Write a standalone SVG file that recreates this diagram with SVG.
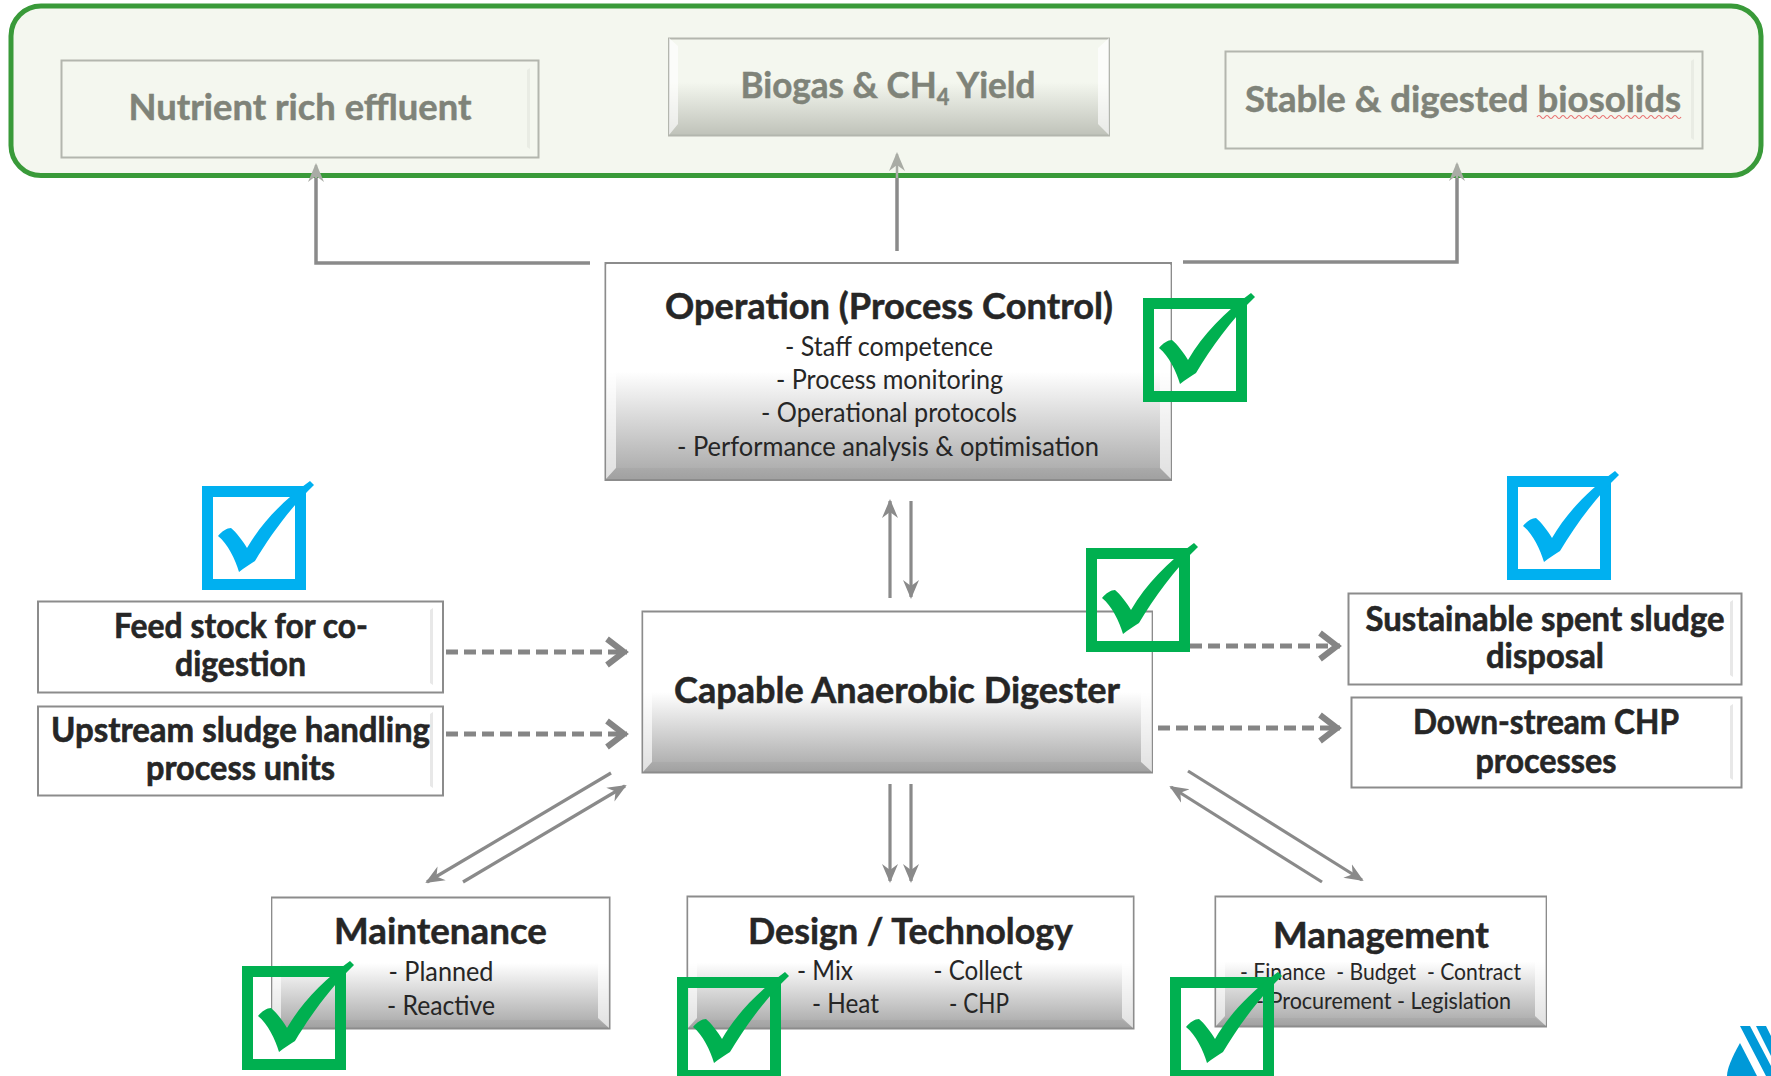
<svg xmlns="http://www.w3.org/2000/svg" width="1771" height="1076" viewBox="0 0 1771 1076">
<style>
text{font-family:Lato,"Liberation Sans",sans-serif;text-anchor:middle;fill:#262626;transform:translateY(1px)}
.t{font-weight:700;font-size:37px;stroke:#262626;stroke-width:.5}
.b{font-weight:700;font-size:34px;stroke:#262626;stroke-width:.6}
.s{font-size:26px}
.x{font-size:23px}
.f{font-weight:700;font-size:37px;fill:#7f8379;stroke:#7f8379;stroke-width:.5}
.sol{fill:none;stroke:#8a8a8a;stroke-width:3.2}
.das{fill:none;stroke:#858585;stroke-width:5;stroke-dasharray:12 6}
.up{fill:none;stroke:#8a8a8a;stroke-width:3.5}
.edge{fill:none;stroke:#8c8c8c;stroke-width:2}
.fedge{fill:none;stroke:#b3b6ae;stroke-width:2}
.hl{fill:#fff;opacity:.65}
.sh{fill:#777;opacity:.1}
.st{fill:#e8e8e8}
.fst{fill:#e9ece4}
</style>
<defs>
<linearGradient id="gb" x1="0" y1="0" x2="0" y2="1"><stop offset="0" stop-color="#fff"/><stop offset=".5" stop-color="#fff"/><stop offset="1" stop-color="#a6a6a6"/></linearGradient>
<linearGradient id="gf" x1="0" y1="0" x2="0" y2="1"><stop offset="0" stop-color="#f4f7ef"/><stop offset=".45" stop-color="#f4f7ef"/><stop offset="1" stop-color="#bfc2b9"/></linearGradient>
<marker id="st" markerUnits="userSpaceOnUse" markerWidth="20" markerHeight="18" viewBox="0 0 20 18" refX="17" refY="9" orient="auto"><path d="M19,9 L0,1 L6,9 L0,17 Z" fill="#8a8a8a"/></marker>
<marker id="stf" markerUnits="userSpaceOnUse" markerWidth="20" markerHeight="18" viewBox="0 0 20 18" refX="17" refY="9" orient="auto"><path d="M19,9 L0,1 L6,9 L0,17 Z" fill="#a9aca5"/></marker>
<marker id="ch" markerUnits="userSpaceOnUse" markerWidth="26" markerHeight="34" viewBox="0 0 26 34" refX="23" refY="17" orient="auto"><path d="M3,4 L20,17 L3,30" fill="none" stroke="#858585" stroke-width="6"/></marker>
<g id="chk">
<rect x="5.500" y="5.500" width="93" height="93" fill="none" stroke="currentColor" stroke-width="11"/>
<path d="M16,50 C20,45 25,42 29,42 C34,46 41,55 45,62 C60,36 82,14 108,-5 L112,-1 C88,22 68,50 53,75 C48,78 42,82 37,86 C33,73 26,58 16,50 Z" fill="currentColor"/>
</g>
</defs>

<g id="panel"><rect x="11" y="6" width="1750" height="169.500" rx="30" fill="#f4f7ef" stroke="#399a39" stroke-width="5"/></g>

<g id="connectors">
<path class="up" d="M590,263 H316 V178"/>
<path class="up" d="M316,178 V165" style="stroke:#a9aca5;stroke-width:2.500" marker-end="url(#stf)"/>
<path class="up" d="M897,251 V178"/>
<path class="up" d="M897,178 V154" style="stroke:#a9aca5;stroke-width:2.500" marker-end="url(#stf)"/>
<path class="up" d="M1183,262 H1457 V178"/>
<path class="up" d="M1457,178 V164" style="stroke:#a9aca5;stroke-width:2.500" marker-end="url(#stf)"/>
<path class="sol" d="M890,598 V501" marker-end="url(#st)"/>
<path class="sol" d="M911,501 V597" marker-end="url(#st)"/>
<path class="das" d="M446,652 H627" marker-end="url(#ch)"/>
<path class="das" d="M446,734 H627" marker-end="url(#ch)"/>
<path class="das" d="M1190,646 H1340" marker-end="url(#ch)"/>
<path class="das" d="M1158,728 H1340" marker-end="url(#ch)"/>
<path class="sol" d="M611,773 L427,882" marker-end="url(#st)"/>
<path class="sol" d="M463,882 L625,786" marker-end="url(#st)"/>
<path class="sol" d="M890,784 V881" marker-end="url(#st)"/>
<path class="sol" d="M911,784 V881" marker-end="url(#st)"/>
<path class="sol" d="M1322,882 L1171,787" marker-end="url(#st)"/>
<path class="sol" d="M1188,771 L1362,880" marker-end="url(#st)"/>
</g>

<g id="nutrient">
<rect class="fedge" x="61.500" y="60.500" width="477" height="97" fill="#f4f7ef"/>
<path class="fst" d="M527,70 L530,68 V149 L527,147 Z"/>
<text class="f" x="300" y="119" textLength="343" lengthAdjust="spacingAndGlyphs">Nutrient rich effluent</text>
</g>
<g id="biogas">
<rect class="fedge" x="669" y="38.500" width="440" height="97" style="fill:url(#gf)"/>
<path class="hl" d="M669,38 L678,46 V124 L669,135 Z M1109,38 L1098,48 V124 L1109,135 Z"/>
<text class="f" x="888" y="97" textLength="295" lengthAdjust="spacingAndGlyphs">Biogas &amp; CH<tspan dy="7" font-size="23">4</tspan><tspan dy="-7"> Yield</tspan></text>
</g>
<g id="stable">
<rect class="fedge" x="1225.500" y="51.500" width="477" height="97" fill="#f4f7ef"/>
<path class="fst" d="M1691,61 L1694,59 V140 L1691,138 Z"/>
<text class="f" x="1463" y="111" textLength="436" lengthAdjust="spacingAndGlyphs">Stable &amp; digested biosolids</text>
<path d="M1537,117 q2,-3 4,0 t4,0 t4,0 t4,0 t4,0 t4,0 t4,0 t4,0 t4,0 t4,0 t4,0 t4,0 t4,0 t4,0 t4,0 t4,0 t4,0 t4,0 t4,0 t4,0 t4,0 t4,0 t4,0 t4,0 t4,0 t4,0 t4,0 t4,0 t4,0 t4,0 t4,0 t4,0 t4,0 t4,0 t4,0 t4,0" fill="none" stroke="#e87070" stroke-width="1.200"/>
</g>

<g id="operation">
<rect class="edge" x="605.500" y="263" width="565.500" height="217" style="fill:url(#gb)"/>
<path class="hl" d="M606,264 L616,274 V468 L606,479 Z M1171,264 L1160,276 V468 L1171,479 Z"/>
<path class="sh" d="M606,479 L616,468 H1160 L1171,479 Z"/>
<text class="t" x="889" y="318" textLength="448" lengthAdjust="spacingAndGlyphs">Operation (Process Control)</text>
<text class="s" x="889" y="355" textLength="208" lengthAdjust="spacingAndGlyphs">- Staff competence</text>
<text class="s" x="889.500" y="388" textLength="227" lengthAdjust="spacingAndGlyphs">- Process monitoring</text>
<text class="s" x="889" y="421" textLength="256" lengthAdjust="spacingAndGlyphs">- Operational protocols</text>
<text class="s" x="888" y="455" textLength="422" lengthAdjust="spacingAndGlyphs">- Performance analysis &amp; optimisation</text>
</g>
<g id="digester">
<rect class="edge" x="642.500" y="611.500" width="509.500" height="161" style="fill:url(#gb)"/>
<path class="hl" d="M643,612 L652,620 V762 L643,772 Z M1152,612 L1141,622 V762 L1152,772 Z"/>
<path class="sh" d="M643,772 L652,762 H1141 L1152,772 Z"/>
<text class="t" x="897" y="702" textLength="446" lengthAdjust="spacingAndGlyphs">Capable Anaerobic Digester</text>
</g>
<g id="feedstock">
<rect class="edge" x="38" y="601.500" width="405" height="91" fill="#fff"/>
<path class="st" d="M430,610 L433,608 V685 L430,683 Z"/>
<text class="b" x="241" y="637" textLength="254" lengthAdjust="spacingAndGlyphs">Feed stock for co-</text>
<text class="b" x="240.500" y="675" textLength="131" lengthAdjust="spacingAndGlyphs">digestion</text>
</g>
<g id="upstream">
<rect class="edge" x="38" y="706.500" width="405" height="89" fill="#fff"/>
<path class="st" d="M430,714 L433,712 V788 L430,786 Z"/>
<text class="b" x="240.500" y="741" textLength="379" lengthAdjust="spacingAndGlyphs">Upstream sludge handling</text>
<text class="b" x="240.500" y="779" textLength="189" lengthAdjust="spacingAndGlyphs">process units</text>
</g>
<g id="sustainable">
<rect class="edge" x="1348.500" y="593.500" width="393" height="91" fill="#fff"/>
<path class="st" d="M1730,602 L1733,600 V677 L1730,675 Z"/>
<text class="b" x="1545" y="630" textLength="359" lengthAdjust="spacingAndGlyphs">Sustainable spent sludge</text>
<text class="b" x="1545" y="667" textLength="118" lengthAdjust="spacingAndGlyphs">disposal</text>
</g>
<g id="downstream">
<rect class="edge" x="1351.500" y="697.500" width="390" height="90" fill="#fff"/>
<path class="st" d="M1730,706 L1733,704 V780 L1730,778 Z"/>
<text class="b" x="1546" y="733" textLength="266" lengthAdjust="spacingAndGlyphs">Down-stream CHP</text>
<text class="b" x="1546" y="772" textLength="141" lengthAdjust="spacingAndGlyphs">processes</text>
</g>
<g id="maintenance">
<rect class="edge" x="272" y="897.500" width="337.500" height="131" style="fill:url(#gb)"/>
<path class="hl" d="M272,898 L281,906 V1018 L272,1028 Z M609,898 L598,908 V1018 L609,1028 Z"/>
<path class="sh" d="M272,1028 L281,1020 H598 L609,1028 Z"/>
<text class="t" x="440.500" y="943" textLength="213" lengthAdjust="spacingAndGlyphs">Maintenance</text>
<text class="s" x="441" y="980" textLength="105" lengthAdjust="spacingAndGlyphs">- Planned</text>
<text class="s" x="441" y="1014" textLength="108" lengthAdjust="spacingAndGlyphs">- Reactive</text>
</g>
<g id="design">
<rect class="edge" x="687.500" y="896.500" width="446" height="132" style="fill:url(#gb)"/>
<path class="hl" d="M688,897 L697,905 V1018 L688,1028 Z M1133,897 L1122,907 V1018 L1133,1028 Z"/>
<path class="sh" d="M688,1028 L697,1020 H1122 L1133,1028 Z"/>
<text class="t" x="910.500" y="943" textLength="325" lengthAdjust="spacingAndGlyphs">Design / Technology</text>
<text class="s" x="825" y="979" textLength="56" lengthAdjust="spacingAndGlyphs">- Mix</text>
<text class="s" x="978" y="979" textLength="89" lengthAdjust="spacingAndGlyphs">- Collect</text>
<text class="s" x="845.500" y="1012" textLength="67" lengthAdjust="spacingAndGlyphs">- Heat</text>
<text class="s" x="979" y="1012" textLength="60" lengthAdjust="spacingAndGlyphs">- CHP</text>
</g>
<g id="management">
<rect class="edge" x="1215.500" y="896.500" width="330.500" height="130" style="fill:url(#gb)"/>
<path class="hl" d="M1216,897 L1225,905 V1016 L1216,1026 Z M1546,897 L1535,907 V1016 L1546,1026 Z"/>
<path class="sh" d="M1216,1026 L1225,1018 H1535 L1546,1026 Z"/>
<text class="t" x="1381" y="947" textLength="216" lengthAdjust="spacingAndGlyphs">Management</text>
<text class="x" x="1380.500" y="979" textLength="281" lengthAdjust="spacingAndGlyphs" xml:space="preserve">- Finance  - Budget  - Contract</text>
<text class="x" x="1383.500" y="1008" textLength="255" lengthAdjust="spacingAndGlyphs">- Procurement - Legislation</text>
</g>

<g id="check-operation" color="#00b050"><use href="#chk" x="1143" y="298"/></g>
<g id="check-digester" color="#00b050"><use href="#chk" x="1086" y="548"/></g>
<g id="check-feedstock" color="#00b0f0"><use href="#chk" x="202" y="486"/></g>
<g id="check-sludge" color="#00b0f0"><use href="#chk" x="1507" y="476"/></g>
<g id="check-maintenance" color="#00b050"><use href="#chk" x="242" y="966"/></g>
<g id="check-design" color="#00b050"><use href="#chk" x="677" y="977"/></g>
<g id="check-management" color="#00b050"><use href="#chk" x="1170" y="977"/></g>

<g id="logo">
<path d="M1740,1043 Q1727,1066 1727,1076 H1757 Z" fill="#0099d8"/>
<path d="M1740,1026 H1750 L1771,1066 V1076 H1766 Z M1756,1026 H1766 L1771,1036 V1056 Z" fill="#0099d8"/>
</g>
</svg>
